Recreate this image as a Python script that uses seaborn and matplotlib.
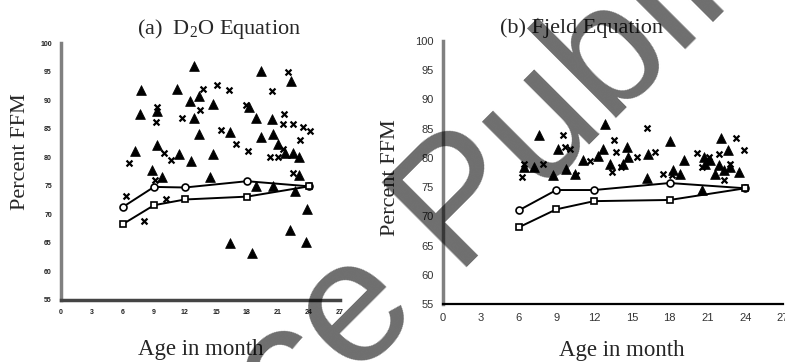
import matplotlib
matplotlib.use("Agg")
import matplotlib.pyplot as plt
import seaborn as sns
import pandas as pd

# Mean lines (open circles / open squares), same ages in both panels
line_age = [6, 9, 12, 18, 24]
a_circle = [71.3, 74.8, 74.7, 75.8, 74.9]
a_square = [68.3, 71.6, 72.6, 73.1, 74.9]
b_circle = [71.0, 74.5, 74.5, 75.7, 74.8]
b_square = [68.1, 71.2, 72.6, 72.8, 74.8]

# (a) D2O equation - triangles
a_tri_age = [12.9, 19.4, 22.3, 7.7, 11.2, 12.5, 13.4, 14.7, 9.3, 7.6, 12.9, 18.2, 18.9, 20.4,
             13.4, 16.4, 19.4, 20.5, 7.2, 9.3, 11.4, 12.6, 14.7, 21.0, 21.7, 22.5, 23.0,
             8.8, 9.8, 14.4, 18.9, 20.5, 23.0, 22.6, 23.8, 22.2, 16.4, 18.5, 23.7]
a_tri_ffm = [95.9, 95.1, 93.4, 91.7, 91.9, 89.9, 90.7, 89.4, 88.1, 87.5, 86.8, 88.8, 86.8, 86.7,
             84.0, 84.4, 83.6, 84.1, 81.1, 82.1, 80.5, 79.3, 80.5, 82.3, 80.7, 80.7, 80.1,
             77.7, 76.6, 76.6, 74.9, 74.9, 76.9, 74.0, 71.0, 67.2, 64.9, 63.3, 65.2]
# (a) D2O equation - crosses
a_x_age = [6.6, 6.3, 8.0, 9.2, 9.3, 10.0, 10.6, 11.7, 13.7, 15.1, 16.3, 13.5, 15.5, 16.9, 18.1,
           17.9, 20.4, 22.0, 21.6, 21.5, 22.5, 23.4, 24.1, 23.1, 20.2, 21.0, 21.5, 10.2, 9.1, 22.5]
a_x_ffm = [79.0, 73.2, 68.9, 86.2, 88.8, 80.7, 79.5, 86.9, 92.0, 92.7, 91.8, 88.2, 84.8, 82.3, 81.1,
           89.2, 91.6, 94.9, 87.6, 85.9, 85.8, 85.3, 84.6, 83.1, 80.0, 80.1, 81.5, 72.6, 76.0, 77.3]

# (b) Fjeld equation - triangles
b_tri_age = [12.9, 7.6, 9.15, 12.7, 14.6, 18.0, 22.1, 22.6, 7.2, 9.8, 10.5, 11.1, 12.3, 13.3,
             14.3, 14.7, 16.3, 16.2, 19.1, 18.8, 18.3, 20.6, 23.5, 8.75, 6.4, 20.7, 21.2, 21.9,
             22.3, 22.8, 21.6, 20.8]
b_tri_ffm = [85.8, 83.9, 81.6, 81.6, 81.9, 82.9, 83.4, 81.4, 78.5, 78.1, 77.3, 79.6, 80.4, 79.0,
             79.0, 80.2, 80.6, 76.5, 79.7, 77.3, 77.9, 74.5, 77.6, 77.1, 78.5, 80.2, 79.6, 78.8,
             77.9, 78.5, 77.3, 79.0]
# (b) Fjeld equation - crosses
b_x_age = [6.3, 6.4, 7.95, 9.55, 10.1, 9.7, 10.6, 11.7, 13.6, 13.7, 13.4, 15.4, 16.2, 16.8, 17.5,
           18.2, 20.2, 21.1, 21.9, 23.3, 23.9, 22.3, 22.8, 20.6, 14.1]
b_x_ffm = [76.8, 78.9, 79.0, 83.9, 81.6, 81.9, 77.1, 79.4, 83.1, 81.0, 77.6, 80.2, 85.1, 81.0, 77.3,
           77.1, 80.9, 80.2, 80.6, 83.4, 81.3, 76.2, 79.0, 78.5, 78.5]

titles = [r"(a)  D$_\mathregular{2}$O Equation", "(b) Fjeld Equation"]

sns.set_style("white")
plt.rcParams["font.family"] = ["Liberation Serif", "DejaVu Serif"]
plt.rcParams["mathtext.fontset"] = "custom"
plt.rcParams["mathtext.rm"] = "Liberation Serif"

fig = plt.figure(figsize=(7.85, 3.62), dpi=100)
ax_a = fig.add_axes([61 / 785, 1 - 300 / 362, 279 / 785, 257 / 362])
ax_b = fig.add_axes([443 / 785, 1 - 304 / 362, 340 / 785, 263 / 362])

panels = [
    (ax_a, a_tri_age, a_tri_ffm, a_x_age, a_x_ffm, a_circle, a_square),
    (ax_b, b_tri_age, b_tri_ffm, b_x_age, b_x_ffm, b_circle, b_square),
]

for ax, ta, tf, xa, xf, circ, sq in panels:
    sns.scatterplot(x=ta, y=tf, marker="^", s=50, color="black", edgecolor="black",
                    linewidth=0.5, ax=ax, zorder=3)
    sns.scatterplot(x=xa, y=xf, marker="x", s=18, color="black", linewidth=1.6, ax=ax, zorder=3)
    lines = pd.DataFrame({"age": line_age, "circle": circ, "square": sq})
    sns.lineplot(data=lines, x="age", y="circle", ax=ax, color="black", lw=1.4, marker="o",
                 markersize=5, markerfacecolor="white", markeredgecolor="black",
                 markeredgewidth=1.2, zorder=4)
    sns.lineplot(data=lines, x="age", y="square", ax=ax, color="black", lw=1.4, marker="s",
                 markersize=4.5, markerfacecolor="white", markeredgecolor="black",
                 markeredgewidth=1.2, zorder=4)
    ax.set_xlim(0, 27)
    ax.set_ylim(55, 100)
    ax.set_xticks(range(0, 28, 3))
    ax.set_yticks(range(55, 101, 5))
    for s in ["top", "right"]:
        ax.spines[s].set_visible(False)
    ax.spines["left"].set_color("#808080")
    ax.spines["left"].set_linewidth(2.5)
    ax.tick_params(direction="out", length=3, width=1, color="#333333")
    ax.set_xlabel("Age in month", fontsize=16.5)
    ax.set_ylabel("Percent FFM", fontsize=16)

# panel (a): tiny bold tick labels, darker bottom axis
ax_a.spines["bottom"].set_color("#444444")
ax_a.spines["bottom"].set_linewidth(2.5)
for lab in ax_a.get_xticklabels() + ax_a.get_yticklabels():
    lab.set_fontfamily("Liberation Sans")
    lab.set_fontsize(5)
    lab.set_fontweight("bold")
    lab.set_color("#222222")
ax_a.yaxis.set_label_coords(-0.111, 0.576)
ax_a.xaxis.set_label_coords(0.5, -0.152)

# panel (b)
ax_b.spines["bottom"].set_color("black")
ax_b.spines["bottom"].set_linewidth(1.6)
for lab in ax_b.get_xticklabels() + ax_b.get_yticklabels():
    lab.set_fontfamily("Liberation Sans")
    lab.set_fontsize(8)
    lab.set_color("#333333")
ax_b.yaxis.set_label_coords(-0.126, 0.479)
ax_b.xaxis.set_label_coords(0.526, -0.135)

fig.text(219 / 785, 1 - 29 / 362, titles[0], fontsize=16, ha="center", va="center")
fig.text(581 / 785, 1 - 28 / 362, titles[1], fontsize=16, ha="center", va="center")

# watermark across the figure
fig.text(-17 / 785, 1 - 752 / 362, "Science Publishing Group", fontsize=126,
         family="Liberation Sans", color="black", alpha=0.57, rotation=45,
         rotation_mode="anchor", ha="left", va="baseline", zorder=10)

fig.savefig("out.png", dpi=100)
